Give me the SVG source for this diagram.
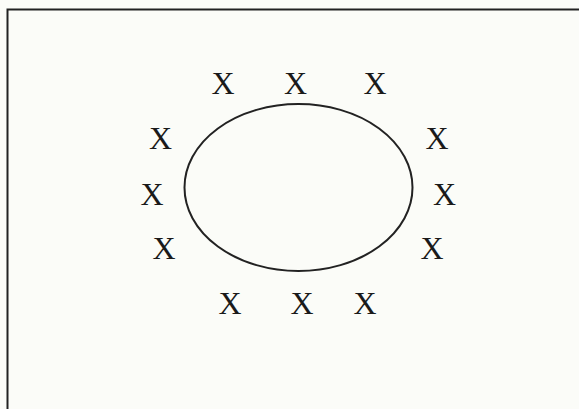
<svg xmlns="http://www.w3.org/2000/svg" width="579" height="409" viewBox="0 0 579 409">
<style>
.x{font-family:"Liberation Serif","Times New Roman",serif;font-size:32px;fill:#1a1a1a;text-anchor:middle}
.ln{stroke:#222;stroke-width:2;fill:none}
</style>
<rect width="579" height="409" fill="#fbfcf8"/>
<g id="frame"><path class="ln" d="M7.5 409 V9.5 H579"/></g>
<g id="ellipse"><ellipse class="ln" cx="298.5" cy="187.5" rx="114" ry="83.5"/></g>
<g id="marks">
<text class="x" x="223" y="94">X</text>
<text class="x" x="295.5" y="94">X</text>
<text class="x" x="375" y="94">X</text>
<text class="x" x="160.5" y="149">X</text>
<text class="x" x="152" y="205">X</text>
<text class="x" x="164" y="258.5">X</text>
<text class="x" x="437" y="149">X</text>
<text class="x" x="444.5" y="205">X</text>
<text class="x" x="432" y="258.5">X</text>
<text class="x" x="230" y="314">X</text>
<text class="x" x="302" y="314">X</text>
<text class="x" x="365" y="314">X</text>
</g>
</svg>
